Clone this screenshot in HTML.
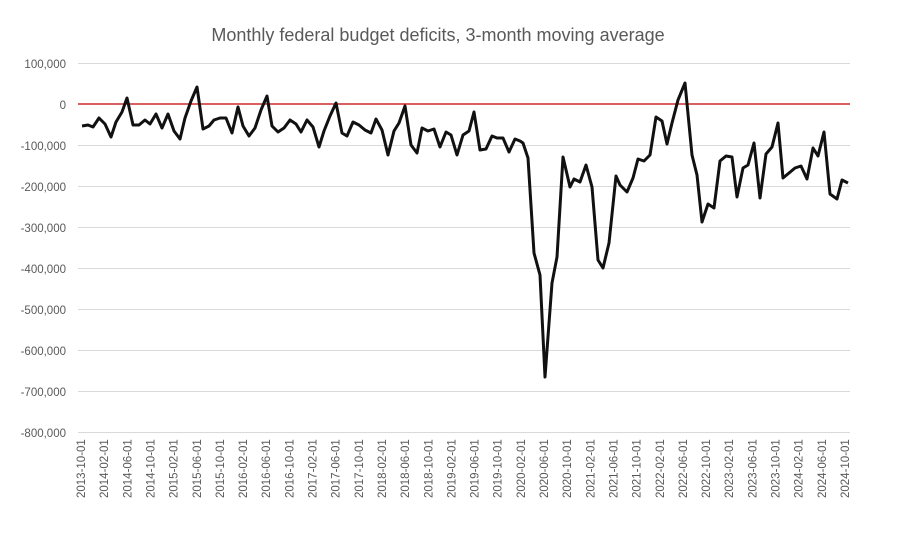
<!DOCTYPE html>
<html><head><meta charset="utf-8"><style>body{margin:0;background:#fff}svg{display:block}</style></head>
<body>
<svg width="900" height="553" xmlns="http://www.w3.org/2000/svg" font-family="Liberation Sans, sans-serif">
<rect width="900" height="553" fill="#fff"/>
<text x="438" y="41" text-anchor="middle" font-size="18" fill="#595959">Monthly federal budget deficits, 3-month moving average</text>
<g stroke="#d9d9d9" stroke-width="1">
<line x1="78" x2="850" y1="63.5" y2="63.5"/>
<line x1="78" x2="850" y1="145.5" y2="145.5"/>
<line x1="78" x2="850" y1="186.5" y2="186.5"/>
<line x1="78" x2="850" y1="227.5" y2="227.5"/>
<line x1="78" x2="850" y1="268.5" y2="268.5"/>
<line x1="78" x2="850" y1="309.5" y2="309.5"/>
<line x1="78" x2="850" y1="350.5" y2="350.5"/>
<line x1="78" x2="850" y1="391.5" y2="391.5"/>
<line x1="78" x2="850" y1="432.5" y2="432.5"/>
</g>
<line x1="78" x2="850" y1="104" y2="104" stroke="#c00000" stroke-width="1.3"/>
<g font-size="11.5" fill="#595959" text-anchor="end">
<text x="66" y="68">100,000</text><text x="66" y="109">0</text>
<text x="66" y="150">-100,000</text><text x="66" y="191">-200,000</text>
<text x="66" y="232">-300,000</text><text x="66" y="273">-400,000</text>
<text x="66" y="314">-500,000</text><text x="66" y="355">-600,000</text>
<text x="66" y="396">-700,000</text><text x="66" y="437">-800,000</text>
</g>
<polyline fill="none" stroke="#111" stroke-width="3" stroke-linejoin="round" points="82,126 88,125 93,127 99,118 105,124 111,137 116,122 122,112 127,98 133,125 139,125 145,120 150,124 156,114 162,128 168,114 174,131 180,139 185,118 191,101 197,87 203,129 209,126 214,120 220,118 226,118 232,133 238,107 243,126 249,136 255,128 261,110 267,96 272,126 278,132 284,128 290,120 296,124 301,132 307,120 313,127 319,147 324,131 330,116 336,103 342,133 347,136 353,122 359,125 365,130 371,133 376,119 382,130 388,155 394,131 399,123 405,106 411,145 417,153 422,128 428,131 434,129 440,147 446,132 451,135 457,155 463,135 469,131 474,112 480,150 486,149 492,136 497,138 503,138 509,152 515,139 520,141 523,143 528,158 534,253 540,275 545,377 552,283 557,257 563,157 570,187 574,179 580,182 586,165 592,187 598,260 603,268 609,243 616,176 620,185 627,192 633,178 638,159 644,161 650,155 656,117 662,121 667,144 672,123 678,100 685,83 692,155 697,175 702,222 708,204 714,208 720,161 726,156 732,157 737,197 743,168 748,165 754,143 760,198 766,154 772,147 778,123 783,178 789,173 795,168 801,166 807,179 813,148 818,156 824,132 830,194 837,199 842,180 848,183"/>
<g font-size="11.5" fill="#595959" id="xl"></g>
<script>
var g=document.getElementById('xl');var y=2013,m=10;
for(var i=0;i<34;i++){var x=81+i*23.15+4;var t=document.createElementNS('http://www.w3.org/2000/svg','text');
t.setAttribute('transform','translate('+x+',498) rotate(-90)');t.textContent=y+'-'+(m<10?'0':'')+m+'-01';g.appendChild(t);
m+=4;if(m>12){m-=12;y++;}}
</script>
</svg>
</body></html>
